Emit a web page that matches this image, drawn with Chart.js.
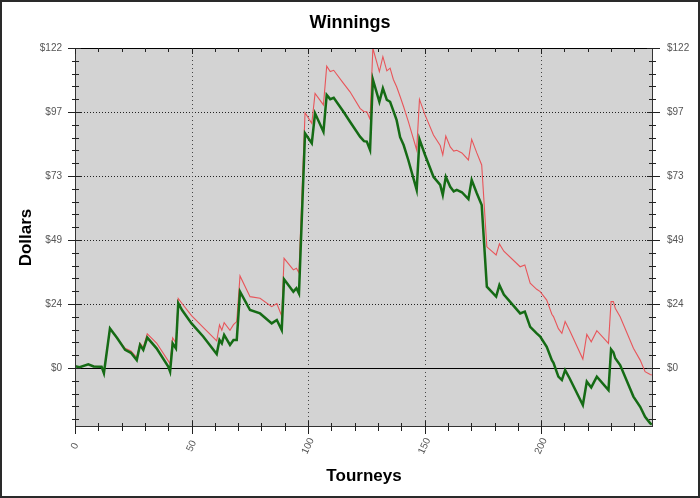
<!DOCTYPE html>
<html>
<head>
<meta charset="utf-8">
<script src="https://cdn.jsdelivr.net/npm/chart.js@4.4.1/dist/chart.umd.min.js"></script>
<style>
html,body{margin:0;padding:0;background:#fff;}
canvas{display:block;}
</style>
</head>
<body>
<canvas id="c" width="700" height="498"></canvas>
<script>
// ---- data ----
const tourneys = [0,2,5.7,8,11.4,12.4,15,18,21.5,24,26.5,27.9,29.3,31,35,40,40.8,41.9,43.3,44.3,46,50,55,60.8,62,63,64,66.5,68,69.4,70.8,75.1,79.4,84.4,86.6,88.7,89.7,93.7,95,96.1,98.7,101.6,103,106.6,108,109.5,111,115.2,118,122.3,124,125.2,126.6,127.8,130.6,132.1,133.8,135.2,136.6,138,139.5,141,143,146.6,147.8,150.2,153.8,156.7,157.8,159.1,161,162.5,163.8,166,168.8,170.2,172.4,174.5,176.7,180.7,182.1,184,191,193,195.3,198.1,199.6,202.4,204.6,205.3,207.4,208.9,210.3,212.2,217.9,219.6,221.5,223.9,228.9,230,231,231.8,233.9,239.6,242.5,244.6,246.8,247.5];
const winnings = [0.7,0.3,1.4,0.6,0.5,-2,15.1,11.5,6.9,5.8,3,8.8,6.9,11.6,7.5,0.5,-1.4,9.4,7.5,24.7,22,17,12,5.3,10.7,9.4,12.6,8.8,10.7,10.7,29.1,22.1,20.8,17,18.3,14.5,33.8,29.1,30.4,28.4,89.5,85.7,97.1,90.1,104.1,102.5,103,97.7,93.9,88.2,86.5,86.3,83.1,110,101.5,106.6,102.2,101.5,98,94.5,88,85,79.3,67.9,87.2,81.2,72.9,69.8,66,72.9,69.1,67.3,67.9,67,64.4,71.7,66.6,62.1,31,27.2,31.6,28,20.8,21.5,15.7,13.2,12,8.1,3,2,-3.3,-4.6,-0.8,-3.9,-14.1,-5.2,-7.4,-3.3,-8.4,7.1,6,3.7,1.1,-10.9,-14.8,-18.6,-21.1,-21.6];
const winningsBonus = [0.7,0.3,1.4,0.6,0.5,-2,15.1,11.5,7.5,6.5,4,9.5,7.8,13,9.5,2.7,1.6,11.5,9.5,26.5,24.5,20,15.5,10.3,16.4,14.4,17.3,14.4,16.5,17.7,35.1,27.2,26.6,23.4,24.6,19.8,41.8,37.4,38,36.3,97.3,93.3,104.7,100.3,115.1,113,113.5,108.5,105.3,99,97.7,97.7,94.8,121.9,113,118.7,113.3,114.3,110,107.2,103.5,99.6,94,83.1,102.4,96.5,88.8,84.8,81.2,88.4,84.3,82.7,83,82,79.3,87.2,82,77.4,46.2,43.1,47.3,44.5,38.6,39.3,32.3,30,29.1,25.9,20.5,19.6,15,13.2,17.7,14.4,3.4,12.8,10,14.2,9.4,25.3,25.3,22.8,19.5,7.5,3,-1.4,-2.5,-2.7];

const yTickValues = [0, 24.4, 48.8, 73.2, 97.6, 122];
const yTickLabels = ['$0', '$24', '$49', '$73', '$97', '$122'];
const xTickValues = [0, 50, 100, 150, 200];
const xTickLabels = ['0', '50', '100', '150', '200'];

const Y_MIN = -22.5, Y_MAX = 122, X_MIN = 0, X_MAX = 248;
const Y_MINOR_STEP = 4.88, X_MINOR_STEP = 10;

const FONT = '"Liberation Sans", Arial, sans-serif';

function toPoints(xs, ys){ return xs.map((x,i)=>({x:x, y:ys[i]})); }

const axesPlugin = {
  id: 'customAxes',
  beforeDraw(chart){
    const {ctx, chartArea:a} = chart;
    ctx.save();
    ctx.fillStyle = '#ffffff';
    ctx.fillRect(0,0,chart.width,chart.height);
    ctx.fillStyle = '#d3d3d3';
    ctx.fillRect(a.left, a.top, a.right-a.left, a.bottom-a.top);
    ctx.restore();
  },
  beforeDatasetsDraw(chart){
    const {ctx, chartArea:a, scales:{x, y}} = chart;
    ctx.save();
    ctx.lineWidth = 1;
    // horizontal dotted grid at major ticks
    ctx.strokeStyle = '#222';
    ctx.setLineDash([1,2]);
    yTickValues.forEach(v=>{
      if (v === 0 || v === Y_MAX) return;
      const py = Math.round(y.getPixelForValue(v)) + 0.5;
      ctx.beginPath(); ctx.moveTo(a.left, py); ctx.lineTo(a.right, py); ctx.stroke();
    });
    // vertical dotted grid
    ctx.strokeStyle = '#444';
    ctx.setLineDash([1,3]);
    xTickValues.forEach(v=>{
      if (v === 0) return;
      const px = Math.round(x.getPixelForValue(v)) + 0.5;
      ctx.beginPath(); ctx.moveTo(px, a.top); ctx.lineTo(px, a.bottom); ctx.stroke();
    });
    // zero line
    ctx.setLineDash([]);
    ctx.strokeStyle = '#000';
    const pz = Math.round(y.getPixelForValue(0)) + 0.5;
    ctx.beginPath(); ctx.moveTo(a.left, pz); ctx.lineTo(a.right, pz); ctx.stroke();
    ctx.restore();
  },
  afterDraw(chart){
    const {ctx, chartArea:a, scales:{x, y}} = chart;
    ctx.save();
    ctx.setLineDash([]);
    ctx.lineWidth = 1;
    // frame lines
    ctx.strokeStyle = '#000';
    ctx.beginPath(); ctx.moveTo(a.left, a.top+0.5); ctx.lineTo(a.right, a.top+0.5); ctx.stroke();
    ctx.strokeStyle = '#333';
    ctx.beginPath();
    ctx.moveTo(a.left+0.5, a.top); ctx.lineTo(a.left+0.5, a.bottom);
    ctx.moveTo(a.right-0.5, a.top); ctx.lineTo(a.right-0.5, a.bottom);
    ctx.moveTo(a.left, a.bottom-0.5); ctx.lineTo(a.right, a.bottom-0.5);
    ctx.stroke();

    // y ticks (left and right), crossing the axis
    ctx.strokeStyle = '#222';
    ctx.beginPath();
    for (let v = -4*Y_MINOR_STEP; v <= Y_MAX + 0.01; v += Y_MINOR_STEP){
      const py = Math.round(y.getPixelForValue(v)) + 0.5;
      const isMajor = yTickValues.some(t=>Math.abs(t-v) < 0.01);
      if (isMajor){
        ctx.moveTo(a.left-7, py); ctx.lineTo(a.left+6, py);
        ctx.moveTo(a.right-6, py); ctx.lineTo(a.right+7, py);
      } else {
        ctx.moveTo(a.left-3, py); ctx.lineTo(a.left+4, py);
        ctx.moveTo(a.right-4, py); ctx.lineTo(a.right+3, py);
      }
    }
    // x ticks bottom (crossing) and top (inside)
    for (let v = X_MIN; v <= X_MAX; v += X_MINOR_STEP){
      const px = Math.round(x.getPixelForValue(v)) + 0.5;
      const isMajor = xTickValues.includes(v);
      if (isMajor){
        ctx.moveTo(px, a.bottom-6); ctx.lineTo(px, a.bottom+7);
        ctx.moveTo(px, a.top); ctx.lineTo(px, a.top+6);
      } else {
        ctx.moveTo(px, a.bottom-4); ctx.lineTo(px, a.bottom+4);
        ctx.moveTo(px, a.top); ctx.lineTo(px, a.top+4);
      }
    }
    ctx.stroke();

    // y labels
    ctx.fillStyle = '#555';
    ctx.font = '10px ' + FONT;
    ctx.textBaseline = 'middle';
    yTickValues.forEach((v,i)=>{
      const py = y.getPixelForValue(v);
      ctx.textAlign = 'right';
      ctx.fillText(yTickLabels[i], a.left-13, py);
      ctx.textAlign = 'left';
      ctx.fillText(yTickLabels[i], a.right+14, py);
    });
    // x labels rotated
    xTickValues.forEach((v,i)=>{
      const px = x.getPixelForValue(v);
      ctx.save();
      ctx.translate(px, a.bottom + 19);
      ctx.rotate(-65*Math.PI/180);
      ctx.textAlign = 'center';
      ctx.textBaseline = 'middle';
      ctx.fillText(xTickLabels[i], 0, 0);
      ctx.restore();
    });

    // titles
    ctx.fillStyle = '#000';
    ctx.font = 'bold 18px ' + FONT;
    ctx.textAlign = 'center';
    ctx.textBaseline = 'middle';
    ctx.fillText('Winnings', 350, 23);
    ctx.font = 'bold 17px ' + FONT;
    ctx.fillText('Tourneys', (a.left+a.right)/2, 476);
    ctx.save();
    ctx.translate(26, (a.top+a.bottom)/2);
    ctx.rotate(-Math.PI/2);
    ctx.fillText('Dollars', 0, 0);
    ctx.restore();

    // outer border
    ctx.strokeStyle = '#2a2a2a';
    ctx.lineWidth = 2;
    ctx.strokeRect(1, 1, chart.width-2, chart.height-2);
    ctx.restore();
  }
};

new Chart(document.getElementById('c'), {
  type: 'line',
  data: {
    datasets: [
      {
        label: 'Winnings',
        data: toPoints(tourneys, winnings),
        borderColor: '#156b15',
        borderWidth: 2.5,
        pointRadius: 0,
        tension: 0,
        fill: false,
        order: 0
      },
      {
        label: 'Winnings + Bonus',
        data: toPoints(tourneys, winningsBonus),
        borderColor: '#e8555a',
        borderWidth: 1.1,
        pointRadius: 0,
        tension: 0,
        fill: false,
        order: 1
      }
    ]
  },
  options: {
    responsive: false,
    animation: false,
    devicePixelRatio: 1,
    layout: { padding: { left: 75, right: 47, top: 48, bottom: 71 } },
    scales: {
      x: { type: 'linear', display: false, min: X_MIN, max: X_MAX },
      y: { type: 'linear', display: false, min: Y_MIN, max: Y_MAX }
    },
    plugins: {
      legend: { display: false },
      tooltip: { enabled: false },
      title: { display: false }
    }
  },
  plugins: [axesPlugin]
});
</script>
</body>
</html>
